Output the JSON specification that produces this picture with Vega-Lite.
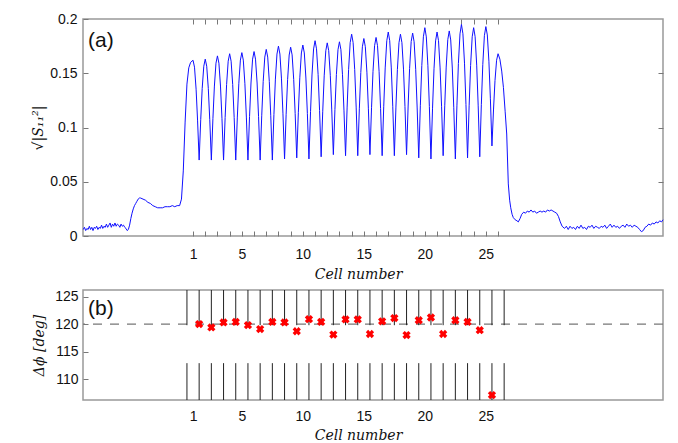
{
"$schema": "https://vega.github.io/schema/vega-lite/v6.json",
"padding": {"left": 31, "top": 11, "right": 5, "bottom": 5},
"spacing": 6,
"config": {
 "view": {"stroke": "#999", "strokeWidth": 1.5},
 "axis": {"domain": false, "grid": false, "labelFont": "Liberation Sans", "labelFontSize": 14, "labelColor": "#111", "tickColor": "#777", "tickWidth": 1, "titleFont": "DejaVu Serif", "titleFontStyle": "italic", "titleFontWeight": "normal", "titleFontSize": 14, "titleColor": "#111", "labelOverlap": false, "labelFlush": false}
},
"datasets": {
"sig": [
{"c":-8.0,"s":0.006},{"c":-7.9,"s":0.008},{"c":-7.8,"s":0.005},{"c":-7.7,"s":0.007},{"c":-7.6,"s":0.006},{"c":-7.5,"s":0.009},{"c":-7.4,"s":0.006},{"c":-7.3,"s":0.008},{"c":-7.2,"s":0.005},{"c":-7.1,"s":0.008},{"c":-7.0,"s":0.007},{"c":-6.9,"s":0.009},{"c":-6.8,"s":0.006},{"c":-6.7,"s":0.008},{"c":-6.6,"s":0.007},{"c":-6.5,"s":0.010},{"c":-6.4,"s":0.007},{"c":-6.3,"s":0.009},{"c":-6.2,"s":0.008},{"c":-6.1,"s":0.011},{"c":-6.0,"s":0.008},{"c":-5.9,"s":0.010},{"c":-5.8,"s":0.012},{"c":-5.7,"s":0.008},{"c":-5.6,"s":0.011},{"c":-5.5,"s":0.009},{"c":-5.4,"s":0.012},{"c":-5.3,"s":0.009},{"c":-5.2,"s":0.011},{"c":-5.1,"s":0.010},{"c":-5.0,"s":0.008},{"c":-4.9,"s":0.011},{"c":-4.8,"s":0.009},{"c":-4.7,"s":0.010},{"c":-4.6,"s":0.008},{"c":-4.5,"s":0.007},{"c":-4.4,"s":0.005},{"c":-4.3,"s":0.006},{"c":-4.2,"s":0.010},{"c":-4.1,"s":0.016},{"c":-4.0,"s":0.021},{"c":-3.9,"s":0.025},{"c":-3.8,"s":0.028},{"c":-3.7,"s":0.030},{"c":-3.6,"s":0.032},{"c":-3.5,"s":0.034},{"c":-3.4,"s":0.035},{"c":-3.3,"s":0.035},{"c":-3.1,"s":0.034},{"c":-2.9,"s":0.033},{"c":-2.7,"s":0.031},{"c":-2.5,"s":0.030},{"c":-2.3,"s":0.028},{"c":-2.1,"s":0.027},{"c":-1.9,"s":0.026},{"c":-1.7,"s":0.026},{"c":-1.5,"s":0.026},{"c":-1.3,"s":0.027},{"c":-1.1,"s":0.027},{"c":-0.9,"s":0.027},{"c":-0.7,"s":0.028},{"c":-0.5,"s":0.027},{"c":-0.3,"s":0.028},{"c":-0.1,"s":0.028},{"c":0.05,"s":0.034},{"c":0.2,"s":0.06},{"c":0.35,"s":0.105},{"c":0.5,"s":0.14},{"c":0.65,"s":0.155},{"c":0.8,"s":0.16},{"c":1,"s":0.162},
{"c":1.12,"s":0.1556},{"c":1.25,"s":0.1353},{"c":1.37,"s":0.1068},{"c":1.5,"s":0.070},{"c":1.63,"s":0.1072},{"c":1.75,"s":0.136},{"c":1.88,"s":0.1565},{"c":2,"s":0.163},
{"c":2.12,"s":0.1565},{"c":2.25,"s":0.136},{"c":2.37,"s":0.1072},{"c":2.5,"s":0.070},{"c":2.63,"s":0.1084},{"c":2.75,"s":0.1382},{"c":2.88,"s":0.1593},{"c":3,"s":0.166},
{"c":3.12,"s":0.1593},{"c":3.25,"s":0.1382},{"c":3.37,"s":0.1084},{"c":3.5,"s":0.070},{"c":3.63,"s":0.1092},{"c":3.75,"s":0.1396},{"c":3.88,"s":0.1611},{"c":4,"s":0.168},
{"c":4.12,"s":0.1611},{"c":4.25,"s":0.1396},{"c":4.37,"s":0.1092},{"c":4.5,"s":0.070},{"c":4.63,"s":0.1096},{"c":4.75,"s":0.1403},{"c":4.88,"s":0.1621},{"c":5,"s":0.169},
{"c":5.12,"s":0.1621},{"c":5.25,"s":0.1403},{"c":5.37,"s":0.1096},{"c":5.5,"s":0.070},{"c":5.63,"s":0.110},{"c":5.75,"s":0.141},{"c":5.88,"s":0.163},{"c":6,"s":0.170},
{"c":6.12,"s":0.163},{"c":6.25,"s":0.141},{"c":6.37,"s":0.110},{"c":6.5,"s":0.070},{"c":6.63,"s":0.1108},{"c":6.75,"s":0.1424},{"c":6.88,"s":0.1649},{"c":7,"s":0.172},
{"c":7.12,"s":0.1649},{"c":7.25,"s":0.1424},{"c":7.37,"s":0.1108},{"c":7.5,"s":0.070},{"c":7.63,"s":0.112},{"c":7.75,"s":0.1446},{"c":7.88,"s":0.1677},{"c":8,"s":0.175},
{"c":8.12,"s":0.1677},{"c":8.25,"s":0.1448},{"c":8.37,"s":0.1126},{"c":8.5,"s":0.071},{"c":8.63,"s":0.1122},{"c":8.75,"s":0.1441},{"c":8.88,"s":0.1668},{"c":9,"s":0.174},
{"c":9.12,"s":0.1669},{"c":9.25,"s":0.1444},{"c":9.37,"s":0.1128},{"c":9.5,"s":0.072},{"c":9.63,"s":0.1136},{"c":9.75,"s":0.1458},{"c":9.88,"s":0.1687},{"c":10,"s":0.176},
{"c":10.12,"s":0.1687},{"c":10.25,"s":0.1456},{"c":10.37,"s":0.113},{"c":10.5,"s":0.071},{"c":10.63,"s":0.1146},{"c":10.75,"s":0.1484},{"c":10.88,"s":0.1724},{"c":11,"s":0.180},
{"c":11.12,"s":0.1725},{"c":11.25,"s":0.149},{"c":11.37,"s":0.1158},{"c":11.5,"s":0.073},{"c":11.63,"s":0.115},{"c":11.75,"s":0.1476},{"c":11.88,"s":0.1707},{"c":12,"s":0.178},
{"c":12.12,"s":0.1708},{"c":12.25,"s":0.1481},{"c":12.37,"s":0.1162},{"c":12.5,"s":0.075},{"c":12.63,"s":0.1166},{"c":12.75,"s":0.1488},{"c":12.88,"s":0.1717},{"c":13,"s":0.179},
{"c":13.12,"s":0.1717},{"c":13.25,"s":0.1486},{"c":13.37,"s":0.116},{"c":13.5,"s":0.074},{"c":13.63,"s":0.1188},{"c":13.75,"s":0.1535},{"c":13.88,"s":0.1782},{"c":14,"s":0.186},
{"c":14.12,"s":0.1782},{"c":14.25,"s":0.1535},{"c":14.37,"s":0.1188},{"c":14.5,"s":0.074},{"c":14.63,"s":0.1172},{"c":14.75,"s":0.1507},{"c":14.88,"s":0.1744},{"c":15,"s":0.182},
{"c":15.12,"s":0.1745},{"c":15.25,"s":0.151},{"c":15.37,"s":0.1178},{"c":15.5,"s":0.075},{"c":15.63,"s":0.1182},{"c":15.75,"s":0.1517},{"c":15.88,"s":0.1754},{"c":16,"s":0.183},
{"c":16.12,"s":0.1754},{"c":16.25,"s":0.1514},{"c":16.37,"s":0.1176},{"c":16.5,"s":0.074},{"c":16.63,"s":0.1196},{"c":16.75,"s":0.1549},{"c":16.88,"s":0.18},{"c":17,"s":0.188},
{"c":17.12,"s":0.18},{"c":17.25,"s":0.1549},{"c":17.37,"s":0.1196},{"c":17.5,"s":0.074},{"c":17.63,"s":0.1188},{"c":17.75,"s":0.1535},{"c":17.88,"s":0.1782},{"c":18,"s":0.186},
{"c":18.12,"s":0.1782},{"c":18.25,"s":0.1538},{"c":18.37,"s":0.1194},{"c":18.5,"s":0.075},{"c":18.63,"s":0.1198},{"c":18.75,"s":0.1545},{"c":18.88,"s":0.1792},{"c":19,"s":0.187},
{"c":19.12,"s":0.179},{"c":19.25,"s":0.1537},{"c":19.37,"s":0.118},{"c":19.5,"s":0.072},{"c":19.63,"s":0.12},{"c":19.75,"s":0.1572},{"c":19.88,"s":0.1836},{"c":20,"s":0.192},
{"c":20.12,"s":0.1835},{"c":20.25,"s":0.1569},{"c":20.37,"s":0.1194},{"c":20.5,"s":0.071},{"c":20.63,"s":0.1178},{"c":20.75,"s":0.1541},{"c":20.88,"s":0.1798},{"c":21,"s":0.188},
{"c":21.12,"s":0.18},{"c":21.25,"s":0.1549},{"c":21.37,"s":0.1196},{"c":21.5,"s":0.074},{"c":21.63,"s":0.12},{"c":21.75,"s":0.1557},{"c":21.88,"s":0.181},{"c":22,"s":0.189},
{"c":22.12,"s":0.1807},{"c":22.25,"s":0.1548},{"c":22.37,"s":0.1182},{"c":22.5,"s":0.071},{"c":22.63,"s":0.1206},{"c":22.75,"s":0.159},{"c":22.88,"s":0.1863},{"c":23,"s":0.195},
{"c":23.12,"s":0.1864},{"c":23.25,"s":0.1593},{"c":23.37,"s":0.1212},{"c":23.5,"s":0.072},{"c":23.63,"s":0.12},{"c":23.75,"s":0.1572},{"c":23.88,"s":0.1836},{"c":24,"s":0.192},
{"c":24.12,"s":0.1837},{"c":24.25,"s":0.1575},{"c":24.37,"s":0.1206},{"c":24.5,"s":0.073},{"c":24.63,"s":0.121},{"c":24.75,"s":0.1582},{"c":24.88,"s":0.1846},{"c":25,"s":0.193},
{"c":25.12,"s":0.1853},{"c":25.25,"s":0.1611},{"c":25.37,"s":0.127},{"c":25.5,"s":0.083},{"c":25.63,"s":0.117},{"c":25.75,"s":0.1434},{"c":25.88,"s":0.162},{"c":26,"s":0.168},
{"c":26.15,"s":0.163},{"c":26.3,"s":0.152},{"c":26.44,"s":0.137},{"c":26.58,"s":0.115},{"c":26.71,"s":0.094},{"c":26.84,"s":0.048},{"c":26.95,"s":0.033},{"c":27.04,"s":0.026},{"c":27.15,"s":0.020},{"c":27.25,"s":0.017},{"c":27.4,"s":0.015},{"c":27.55,"s":0.014},{"c":27.66,"s":0.013},{"c":27.8,"s":0.016},{"c":27.94,"s":0.020},{"c":28.1,"s":0.022},{"c":28.25,"s":0.021},{"c":28.4,"s":0.023},{"c":28.55,"s":0.022},{"c":28.7,"s":0.024},{"c":28.85,"s":0.022},{"c":29.0,"s":0.023},{"c":29.15,"s":0.021},{"c":29.3,"s":0.022},{"c":29.45,"s":0.023},{"c":29.6,"s":0.022},{"c":29.75,"s":0.023},{"c":29.9,"s":0.022},{"c":30.05,"s":0.024},{"c":30.2,"s":0.023},{"c":30.35,"s":0.024},{"c":30.5,"s":0.023},{"c":30.65,"s":0.022},{"c":30.8,"s":0.021},{"c":30.95,"s":0.018},{"c":31.1,"s":0.013},{"c":31.25,"s":0.009},
{"c":31.45,"s":0.007},{"c":31.6,"s":0.009},{"c":31.75,"s":0.006},{"c":31.9,"s":0.009},{"c":32.05,"s":0.007},{"c":32.2,"s":0.008},{"c":32.35,"s":0.006},{"c":32.5,"s":0.009},{"c":32.65,"s":0.007},{"c":32.8,"s":0.010},{"c":32.95,"s":0.007},{"c":33.1,"s":0.008},{"c":33.25,"s":0.006},{"c":33.4,"s":0.009},{"c":33.55,"s":0.008},{"c":33.7,"s":0.010},{"c":33.85,"s":0.007},{"c":34.0,"s":0.009},{"c":34.15,"s":0.008},{"c":34.3,"s":0.007},{"c":34.45,"s":0.009},{"c":34.6,"s":0.008},{"c":34.75,"s":0.010},{"c":34.9,"s":0.007},{"c":35.05,"s":0.009},{"c":35.2,"s":0.011},{"c":35.35,"s":0.008},{"c":35.5,"s":0.010},{"c":35.65,"s":0.008},{"c":35.8,"s":0.009},{"c":35.95,"s":0.007},{"c":36.1,"s":0.009},{"c":36.25,"s":0.010},{"c":36.4,"s":0.008},{"c":36.55,"s":0.011},{"c":36.7,"s":0.009},{"c":36.85,"s":0.010},{"c":37.0,"s":0.008},{"c":37.15,"s":0.010},{"c":37.3,"s":0.009},{"c":37.45,"s":0.008},{"c":37.6,"s":0.006},{"c":37.75,"s":0.004},{"c":37.9,"s":0.005},{"c":38.05,"s":0.008},{"c":38.2,"s":0.009},{"c":38.35,"s":0.011},{"c":38.5,"s":0.010},{"c":38.65,"s":0.012},{"c":38.8,"s":0.011},{"c":38.95,"s":0.013},{"c":39.1,"s":0.012},{"c":39.25,"s":0.014},{"c":39.4,"s":0.013},{"c":39.52,"s":0.015}
],
"mk": [
{"c":1.5,"v":120.0},{"c":2.5,"v":119.4},{"c":3.5,"v":120.3},{"c":4.5,"v":120.4},{"c":5.5,"v":119.8},{"c":6.5,"v":119.1},{"c":7.5,"v":120.4},{"c":8.5,"v":120.3},{"c":9.5,"v":118.7},{"c":10.5,"v":120.9},{"c":11.5,"v":120.4},{"c":12.5,"v":118.1},{"c":13.5,"v":120.85},{"c":14.5,"v":120.85},{"c":15.5,"v":118.2},{"c":16.5,"v":120.5},{"c":17.5,"v":121.1},{"c":18.5,"v":118.0},{"c":19.5,"v":120.7},{"c":20.5,"v":121.2},{"c":21.5,"v":118.2},{"c":22.5,"v":120.7},{"c":23.5,"v":120.4},{"c":24.5,"v":118.9},{"c":25.5,"v":107.1}
],
"bd": [
{"c":0.5},{"c":1.5},{"c":2.5},{"c":3.5},{"c":4.5},{"c":5.5},{"c":6.5},{"c":7.5},{"c":8.5},{"c":9.5},{"c":10.5},{"c":11.5},{"c":12.5},{"c":13.5},{"c":14.5},{"c":15.5},{"c":16.5},{"c":17.5},{"c":18.5},{"c":19.5},{"c":20.5},{"c":21.5},{"c":22.5},{"c":23.5},{"c":24.5},{"c":25.5},{"c":26.5}
]
},
"vconcat": [
{
 "width": 580, "height": 217,
 "data": {"name": "sig"},
 "layer": [
  {"mark": {"type": "line", "color": "#1010ff", "strokeWidth": 1},
   "encoding": {
    "x": {"field": "c", "type": "quantitative", "scale": {"domain": [-8.02, 39.52], "nice": false, "zero": false},
          "axis": {"orient": "bottom", "values": [1,2,3,4,5,6,7,8,9,10,11,12,13,14,15,16,17,18,19,20,21,22,23,24,25,26], "labelExpr": "(datum.value == 1 || datum.value % 5 == 0) ? datum.label : ''", "tickSize": -5, "labelPadding": 16, "title": "Cell number", "titlePadding": 6, "titleX": 275}},
    "y": {"field": "s", "type": "quantitative", "scale": {"domain": [0, 0.2], "nice": false},
          "axis": {"orient": "left", "values": [0, 0.05, 0.1, 0.15, 0.2], "format": "~g", "tickSize": -5, "labelPadding": 11, "title": "√|S₁₁²|", "titlePadding": 4}}
   }},
  {"mark": {"type": "point", "opacity": 0},
   "encoding": {
    "x": {"field": "c", "type": "quantitative", "axis": {"orient": "top", "values": [1,2,3,4,5,6,7,8,9,10,11,12,13,14,15,16,17,18,19,20,21,22,23,24,25,26], "labels": false, "tickSize": -5, "title": null}},
    "y": {"field": "s", "type": "quantitative", "axis": {"orient": "right", "values": [0.05, 0.1, 0.15], "labels": false, "tickSize": -5, "title": null}}
   }},
  {"data": {"values": [{}]},
   "mark": {"type": "text", "text": "(a)", "align": "left", "baseline": "middle", "font": "Liberation Sans", "fontSize": 21, "color": "#111"},
   "encoding": {"x": {"datum": -7.6, "type": "quantitative", "axis": null}, "y": {"datum": 0.18, "type": "quantitative", "axis": null}}}
 ],
 "resolve": {"axis": {"x": "independent", "y": "independent"}}
},
{
 "width": 580, "height": 110,
 "layer": [
  {"data": {"values": [{}]},
   "mark": {"type": "rule", "color": "#777", "strokeDash": [9, 8], "strokeWidth": 1.3},
   "encoding": {"y": {"datum": 120, "type": "quantitative", "scale": {"domain": [106.2, 126.2], "nice": false, "zero": false},
          "axis": {"orient": "left", "values": [110, 115, 120, 125], "tickSize": -5, "labelPadding": 10, "title": "Δϕ [deg]", "titlePadding": 8}}}},
  {"data": {"name": "bd"},
   "mark": {"type": "rule", "color": "#222", "strokeWidth": 1},
   "encoding": {
    "x": {"field": "c", "type": "quantitative", "scale": {"domain": [-8.02, 39.52], "nice": false, "zero": false},
          "axis": {"orient": "bottom", "values": [1, 5, 10, 15, 20, 25], "tickSize": 0, "labelPadding": 9, "title": "Cell number", "titlePadding": 5, "titleX": 275}},
    "y": {"datum": 126.2, "type": "quantitative", "axis": null},
    "y2": {"datum": 119.8}
   }},
  {"data": {"name": "bd"},
   "mark": {"type": "rule", "color": "#222", "strokeWidth": 1},
   "encoding": {
    "x": {"field": "c", "type": "quantitative", "axis": null},
    "y": {"datum": 112.9, "type": "quantitative", "axis": null},
    "y2": {"datum": 106.2}
   }},
  {"data": {"name": "mk"},
   "mark": {"type": "point", "shape": "cross", "angle": 45, "filled": true, "color": "#ff0000", "size": 70, "opacity": 1},
   "encoding": {
    "x": {"field": "c", "type": "quantitative", "axis": null},
    "y": {"field": "v", "type": "quantitative", "axis": null}
   }},
  {"data": {"values": [{}]},
   "mark": {"type": "text", "text": "(b)", "align": "left", "baseline": "middle", "font": "Liberation Sans", "fontSize": 21, "color": "#111"},
   "encoding": {"x": {"datum": -7.6, "type": "quantitative", "axis": null}, "y": {"datum": 122.7, "type": "quantitative", "axis": null}}}
 ],
 "resolve": {"axis": {"x": "independent", "y": "independent"}}
}
]
}
